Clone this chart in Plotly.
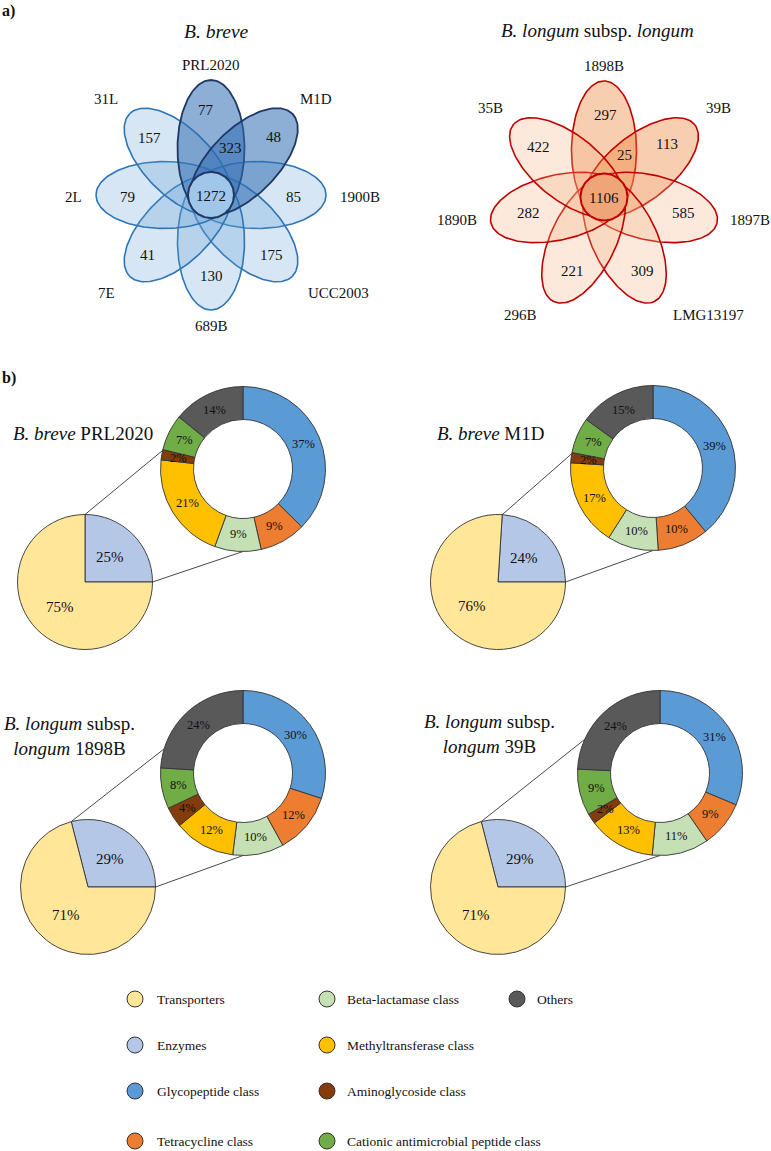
import numpy as np
import plotly.graph_objects as go

W, H = 771, 1151
FONT = "Liberation Serif"

# ---------------- data: panel a) (Venn counts) ----------------
breve_sets = ["PRL2020", "M1D", "1900B", "UCC2003", "689B", "7E", "2L", "31L"]
breve_unique = [77, 48, 85, 175, 130, 41, 79, 157]
breve_core = 1272
breve_prl_m1d = 323

longum_sets = ["1898B", "39B", "1897B", "LMG13197", "296B", "1890B", "35B"]
longum_unique = [297, 113, 585, 309, 221, 282, 422]
longum_core = 1106
longum_1898_39 = 25

# ---------------- data: panel b) (percentages) ----------------
panel_titles = [
    "<i>B. breve</i> PRL2020",
    "<i>B. breve</i> M1D",
    "<i>B. longum</i> subsp.<br><i>longum</i> 1898B",
    "<i>B. longum</i> subsp.<br><i>longum</i> 39B",
]
pie_labels = ["Enzymes", "Transporters"]
enzymes = [25, 24, 29, 29]
transporters = [75, 76, 71, 71]

class_labels = [
    "Glycopeptide class", "Tetracycline class", "Beta-lactamase class",
    "Methyltransferase class", "Aminoglycoside class",
    "Cationic antimicrobial peptide class", "Others",
]
glycopeptide = [37, 39, 30, 31]
tetracycline = [9, 10, 12, 9]
beta_lactamase = [9, 10, 10, 11]
methyltransferase = [21, 17, 12, 13]
aminoglycoside = [2, 2, 4, 2]
cationic = [7, 7, 8, 9]
others = [14, 15, 24, 24]

colors = {
    "Transporters": "#FFE699",
    "Enzymes": "#B4C7E7",
    "Glycopeptide class": "#5B9BD5",
    "Tetracycline class": "#ED7D31",
    "Beta-lactamase class": "#C5E0B4",
    "Methyltransferase class": "#FFC000",
    "Aminoglycoside class": "#843C0C",
    "Cationic antimicrobial peptide class": "#70AD47",
    "Others": "#595959",
}

# ---------------- layout (pixel positions) ----------------
# venn: centre, angle of each petal, label positions, number positions
breve_c = (211, 195)
breve_angles = [90, 45, 0, -45, -90, -135, 180, 135]
breve_label_xy = [(211, 65), (316, 99), (360, 197), (338, 293),
                  (211, 326), (106, 293), (73, 197), (106, 99)]
breve_num_xy = [(206, 110), (273, 137), (293, 197), (271, 255),
                (211, 276), (147, 255), (127, 197), (149, 138)]

longum_c = (604, 197)
longum_angles = [90 - k * 360 / 7 for k in range(7)]
longum_label_xy = [(604, 66), (718, 108), (750, 220), (708, 315),
                   (520, 315), (457, 220), (490, 108)]
longum_num_xy = [(605, 115), (667, 144), (683, 213), (642, 271),
                 (572, 271), (528, 213), (538, 147)]

# pie (cx, cy, r), donut (cx, cy, r), connector angle on donut, title pos
pie_geo = [(85, 582, 67.5), (498, 582, 67.5), (88, 887, 67.5), (498, 887, 67.5)]
donut_geo = [(243, 469, 82.5), (653, 468, 82.5), (243, 773, 82.5), (660, 773, 82.5)]
link_angle = [283, 280, 287, 294]
title_xy = [(83, 433), (490, 433), (69, 736), (489, 734)]


def ellipse(c, ang, d, a, b, n=160):
    th = np.radians(ang)
    ex = c[0] + d * np.cos(th)
    ey = c[1] - d * np.sin(th)
    t = np.linspace(0, 2 * np.pi, n)
    u, v = a * np.cos(t), b * np.sin(t)
    x = ex + u * np.cos(th) - v * np.sin(th)
    y = ey - (u * np.sin(th) + v * np.cos(th))
    return x, y


def circle(c, r, n=120):
    t = np.linspace(0, 2 * np.pi, n)
    return c[0] + r * np.cos(t), c[1] + r * np.sin(t)


def dom(cx, cy, r):
    return dict(x=[(cx - r) / W, (cx + r) / W], y=[1 - (cy + r) / H, 1 - (cy - r) / H])


def polar(cx, cy, r, deg):
    t = np.radians(deg)
    return cx + r * np.sin(t), cy - r * np.cos(t)


fig = go.Figure()
ann = []


def txt(x, y, s, size=15, **kw):
    ann.append(dict(x=x, y=y, xref="x", yref="y", text=s, showarrow=False,
                    font=dict(family=FONT, size=size, color="#111"), **kw))


def shape_trace(x, y, fill, line, width):
    fig.add_trace(go.Scatter(x=x, y=y, mode="lines", fill="toself", fillcolor=fill,
                             line=dict(color=line, width=width),
                             hoverinfo="skip", showlegend=False))


# ---- Venn B. breve
dark_breve = {"PRL2020", "M1D"}
for name, ang in zip(breve_sets, breve_angles):
    if name not in dark_breve:
        x, y = ellipse(breve_c, ang, 46.5, 68.5, 33.5)
        shape_trace(x, y, "rgba(91,155,213,0.25)", "#2E75B6", 1.6)
for name, ang in zip(breve_sets, breve_angles):
    if name in dark_breve:
        x, y = ellipse(breve_c, ang, 46.5, 68.5, 33.5)
        shape_trace(x, y, "rgba(47,108,178,0.55)", "#1F3864", 1.8)
x, y = circle(breve_c, 23)
shape_trace(x, y, "rgb(160,198,234)", "#1F3864", 2)

for name, (lx, ly) in zip(breve_sets, breve_label_xy):
    txt(lx, ly, name, 15)
for v, (nx, ny) in zip(breve_unique, breve_num_xy):
    txt(nx, ny, str(v), 15)
txt(breve_c[0], breve_c[1] + 1, str(breve_core), 15)
txt(230, 148, str(breve_prl_m1d), 15)
txt(216, 31, "<i>B. breve</i>", 19.5)

# ---- Venn B. longum
dark_longum = {"1898B", "39B"}
for name, ang in zip(longum_sets, longum_angles):
    fill = "rgba(237,125,49,0.38)" if name in dark_longum else "rgba(244,177,131,0.28)"
    x, y = ellipse(longum_c, ang, 47, 69, 32.5)
    shape_trace(x, y, fill, "#C00000", 1.6)
x, y = circle(longum_c, 23.5)
shape_trace(x, y, "rgb(240,165,120)", "#C00000", 2)

for name, (lx, ly) in zip(longum_sets, longum_label_xy):
    txt(lx, ly, name, 15)
for v, (nx, ny) in zip(longum_unique, longum_num_xy):
    txt(nx, ny, str(v), 15)
txt(longum_c[0], longum_c[1] + 1, str(longum_core), 15)
txt(624, 155, str(longum_1898_39), 15)
txt(597, 30, "<i>B. longum</i> subsp. <i>longum</i>", 19)

txt(0, 11, "<b>a)</b>", 16, xanchor="left")
txt(0, 378, "<b>b)</b>", 16, xanchor="left")

# ---- panel b) pies + donuts
for i in range(4):
    pcx, pcy, pr = pie_geo[i]
    dcx, dcy, dr = donut_geo[i]
    pvals = [enzymes[i], transporters[i]]
    dvals = [glycopeptide[i], tetracycline[i], beta_lactamase[i], methyltransferase[i],
             aminoglycoside[i], cationic[i], others[i]]
    start = 90 - 360 * pvals[0] / sum(pvals)

    # connectors (drawn first, under the pies)
    x0, y0 = polar(pcx, pcy, pr, start)
    x1, y1 = polar(dcx, dcy, dr, link_angle[i])
    x2, y2 = polar(pcx, pcy, pr, 90)
    x3, y3 = polar(dcx, dcy, dr, 180)
    fig.add_trace(go.Scatter(x=[x0, x1, None, x2, x3], y=[y0, y1, None, y2, y3],
                             mode="lines", line=dict(color="#333", width=0.9),
                             hoverinfo="skip", showlegend=False))

    fig.add_trace(go.Pie(values=pvals, labels=pie_labels, sort=False,
                         direction="clockwise", rotation=start, textinfo="none",
                         marker=dict(colors=[colors[k] for k in pie_labels],
                                     line=dict(color="#333", width=0.9)),
                         domain=dom(pcx, pcy, pr), showlegend=False))
    fig.add_trace(go.Pie(values=dvals, labels=class_labels, sort=False, hole=0.6,
                         direction="clockwise", rotation=0, textinfo="none",
                         marker=dict(colors=[colors[k] for k in class_labels],
                                     line=dict(color="#333", width=0.9)),
                         domain=dom(dcx, dcy, dr), showlegend=False))

    # slice labels
    cum = 0
    for v in pvals:
        mid = start + 360 * (cum + v / 2) / sum(pvals)
        lx, ly = polar(pcx, pcy, pr * 0.52, mid)
        txt(lx, ly, f"{v}%", 15)
        cum += v
    cum = 0
    for v in dvals:
        mid = 360 * (cum + v / 2) / sum(dvals)
        lx, ly = polar(dcx, dcy, dr * 0.79, mid)
        txt(lx, ly, f"{v}%", 12.5)
        cum += v

    tx, ty = title_xy[i]
    txt(tx, ty, panel_titles[i], 19)

# ---- legend (manual, column-major grid)
legend_order = ["Transporters", "Enzymes", "Glycopeptide class", "Tetracycline class",
                "Beta-lactamase class", "Methyltransferase class", "Aminoglycoside class",
                "Cationic antimicrobial peptide class", "Others"]
leg_cols_marker = [135, 327, 517]
leg_cols_text = [155, 345, 535]
leg_rows = [999, 1045, 1091, 1141]
for k, name in enumerate(legend_order):
    c, r = divmod(k, 4)
    fig.add_trace(go.Scatter(x=[leg_cols_marker[c]], y=[leg_rows[r]], mode="markers",
                             marker=dict(size=16, color=colors[name],
                                         line=dict(color="#333", width=1)),
                             hoverinfo="skip", showlegend=False))
    txt(leg_cols_text[c], leg_rows[r], name, 13.5, xanchor="left")

fig.update_layout(
    width=W, height=H,
    margin=dict(l=0, r=0, t=0, b=0),
    paper_bgcolor="white", plot_bgcolor="white",
    xaxis=dict(range=[0, W], visible=False, fixedrange=True),
    yaxis=dict(range=[H, 0], visible=False, fixedrange=True),
    annotations=ann,
    showlegend=False,
)

fig.write_html("out.html", config={"displayModeBar": False},
               post_script="document.body.style.margin='0';")
